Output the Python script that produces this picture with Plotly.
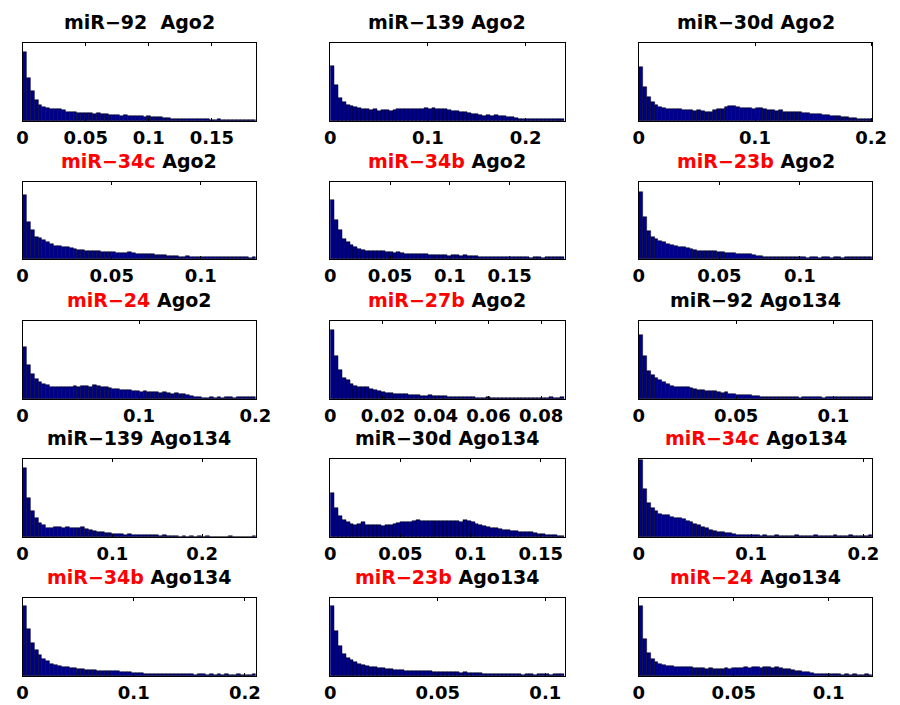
import plotly.graph_objects as go

# ---------------- data ----------------
mirnas = ["miR−92 ", "miR−139", "miR−30d", "miR−34c", "miR−34b", "miR−23b", "miR−24", "miR−27b",
          "miR−92", "miR−139", "miR−30d", "miR−34c", "miR−34b", "miR−23b", "miR−24"]
agos = ["Ago2"] * 8 + ["Ago134"] * 7
highlighted = [False, False, False, True, True, True, True, True,
               False, False, False, True, True, True, True]
x_max = [0.185, 0.24, 0.201, 0.131, 0.196, 0.145, 0.2005, 0.0889,
         0.12, 0.26, 0.167, 0.208, 0.21, 0.109, 0.123]
tick_vals = [[0, 0.05, 0.1, 0.15], [0, 0.1, 0.2], [0, 0.1, 0.2], [0, 0.05, 0.1],
             [0, 0.05, 0.1, 0.15], [0, 0.05, 0.1], [0, 0.1, 0.2], [0, 0.02, 0.04, 0.06, 0.08],
             [0, 0.05, 0.1], [0, 0.1, 0.2], [0, 0.05, 0.1, 0.15], [0, 0.1, 0.2],
             [0, 0.1, 0.2], [0, 0.05, 0.1], [0, 0.05, 0.1]]
tick_text = [["0", "0.05", "0.1", "0.15"], ["0", "0.1", "0.2"], ["0", "0.1", "0.2"], ["0", "0.05", "0.1"],
             ["0", "0.05", "0.1", "0.15"], ["0", "0.05", "0.1"], ["0", "0.1", "0.2"], ["0", "0.02", "0.04", "0.06", "0.08"],
             ["0", "0.05", "0.1"], ["0", "0.1", "0.2"], ["0", "0.05", "0.1", "0.15"], ["0", "0.1", "0.2"],
             ["0", "0.1", "0.2"], ["0", "0.05", "0.1"], ["0", "0.05", "0.1"]]

# histogram bar heights (percent of panel height), 60 equal bins from 0 to x_max
h_mir92_ago2 = [88,55,38,27,21,18,17,16,16,15, 14,12,11,11,10,10,10,10,9,10, 9,9,8,8,8,7,8,7,6,7,
                6,5,6,5,5,5,4,4,3,3, 3,2,3,2,3,2,3,2,1,1, 2,1,1,1,1,1,1,1,1,1]
h_mir139_ago2 = [70,46,30,24,21,19,18,17,16,15, 14,15,13,14,14,13,14,15,15,16, 16,15,16,16,17,16,17,16,15,16,
                 14,13,13,12,11,10,9,9,8,7, 8,7,8,6,6,5,5,4,3,3, 3,3,3,3,3,3,2,2,2,2]
h_mir30d_ago2 = [69,43,31,24,20,18,17,16,16,15, 15,14,14,14,13,14,13,12,12,14, 15,16,18,19,19,18,17,17,17,16,
                 17,17,15,14,14,13,14,12,12,12, 11,11,10,10,9,9,9,8,8,7, 7,6,5,5,4,4,3,3,2,2]
h_mir34c_ago2 = [83,48,38,29,27,25,22,19,17,17, 16,15,14,13,12,12,11,11,10,10, 9,9,9,9,8,8,8,9,8,7,
                 7,7,6,6,5,5,5,4,4,4, 3,3,4,3,3,3,3,2,2,2, 2,2,2,2,3,2,2,2,1,3]
h_mir34b_ago2 = [76,51,38,26,22,18,16,13,12,11, 10,10,10,10,9,9,8,9,8,7, 7,7,6,6,6,5,5,5,5,5,
                 4,5,5,4,5,4,4,4,3,3, 3,2,3,2,2,3,2,2,2,2, 2,1,2,2,1,2,2,2,2,2]
h_mir23b_ago2 = [87,55,36,28,26,24,22,20,18,17, 16,15,14,13,12,11,11,10,10,10, 9,9,8,8,8,7,7,6,6,5,
                 4,4,3,3,3,3,3,2,3,3, 2,3,2,1,2,2,1,2,2,1, 2,2,1,2,2,3,2,2,2,2]
h_mir24_ago2 = [67,43,32,26,22,19,18,16,15,15, 15,16,16,17,16,17,17,16,18,17, 16,15,14,13,13,12,11,11,10,10,
                9,10,9,9,9,8,9,8,7,8, 6,6,5,4,3,2,1,1,2,1, 2,1,2,2,1,2,2,2,3,2]
h_mir27b_ago2 = [88,55,37,27,24,19,17,16,16,15, 13,11,10,9,8,8,7,7,6,6, 5,5,5,4,4,5,4,4,4,4,
                 3,3,3,3,3,2,2,1,1,1, 2,1,1,1,1,1,1,1,1,1, 1,1,1,1,1,1,2,1,1,2]
h_mir92_ago134 = [82,55,36,31,27,24,22,19,17,16, 15,15,15,14,13,12,11,10,10,10, 9,8,9,7,6,5,5,5,5,4,
                  4,3,2,2,2,2,2,2,2,2, 2,1,2,2,2,2,2,1,2,2, 2,2,2,2,2,2,2,2,2,3]
h_mir139_ago134 = [89,50,33,24,18,15,12,12,13,13, 12,13,12,12,11,13,10,9,8,7, 6,5,5,4,4,4,3,4,3,2,
                   3,2,2,2,2,1,2,1,1,1, 0,1,0,1,0,1,0,1,0,0, 0,0,0,1,0,0,0,0,0,1]
h_mir30d_ago134 = [57,37,27,22,19,17,16,17,19,16, 16,15,15,14,15,16,17,18,19,19, 19,20,22,20,21,21,20,21,21,21,
                   20,21,20,19,22,20,19,17,15,14, 13,12,11,10,9,9,8,8,7,7, 6,6,5,4,4,3,3,2,1,1]
h_mir34c_ago134 = [99,62,44,37,33,29,28,28,26,25, 24,23,21,19,17,15,13,11,9,8, 7,6,5,5,4,3,3,2,2,2,
                   2,1,2,1,1,2,1,1,1,1, 2,1,1,1,1,2,1,1,1,1, 2,1,1,1,2,1,1,1,1,2]
h_mir34b_ago134 = [90,60,42,33,27,22,19,16,14,13, 12,11,10,10,9,9,8,8,8,7, 7,7,6,6,6,5,5,5,4,4,
                   4,3,3,3,3,3,2,2,3,2, 2,2,2,2,1,2,2,1,2,1, 2,1,2,1,1,2,1,1,1,2]
h_mir23b_ago134 = [90,58,38,28,23,20,18,16,14,13, 12,11,10,10,9,9,8,8,8,7, 7,7,6,6,6,6,5,5,5,5,
                   5,5,5,4,5,4,4,4,4,3, 3,2,2,2,2,2,2,2,2,1, 2,2,1,2,2,2,1,2,2,2]
h_mir24_ago134 = [90,48,30,22,18,15,14,13,13,12, 12,12,11,11,10,10,10,9,10,9, 9,9,10,9,10,10,10,11,10,11,
                  11,10,11,11,10,11,10,9,9,8, 7,6,5,5,4,3,3,2,2,2, 2,2,1,2,1,2,1,1,2,1]

heights = [h_mir92_ago2, h_mir139_ago2, h_mir30d_ago2, h_mir34c_ago2, h_mir34b_ago2,
           h_mir23b_ago2, h_mir24_ago2, h_mir27b_ago2, h_mir92_ago134, h_mir139_ago134,
           h_mir30d_ago134, h_mir34c_ago134, h_mir34b_ago134, h_mir23b_ago134, h_mir24_ago134]

# ---------------- layout geometry (pixels) ----------------
W, H = 900, 705
col_px = [(17, 256), (332, 572), (648, 887)]
row_px = [(43, 121), (182, 259), (321, 399), (459, 537), (598, 676)]

BAR_COLOR = "rgb(0,0,143)"
FONT = "DejaVu Sans"

fig = go.Figure()
annotations = []
layout_axes = {}

for i in range(15):
    r, c = divmod(i, 3)
    x0, x1 = col_px[c]
    y0, y1 = row_px[r]
    xd = [x0 / W, x1 / W]
    yd = [1 - y1 / H, 1 - y0 / H]
    n = len(heights[i])
    bw = x_max[i] / n
    centers = [(k + 0.5) * bw for k in range(n)]
    ax = "" if i == 0 else str(i + 1)
    fig.add_trace(go.Bar(
        x=centers, y=heights[i], width=bw,
        marker=dict(color=BAR_COLOR, line=dict(color="black", width=0.5)),
        xaxis="x" + ax, yaxis="y" + ax, showlegend=False, hoverinfo="skip"))
    layout_axes["xaxis" + ax] = dict(
        domain=xd, anchor="y" + ax, range=[0, x_max[i]],
        tickmode="array", tickvals=tick_vals[i], ticktext=tick_text[i],
        ticks="inside", ticklen=3, tickcolor="black",
        showline=True, linecolor="black", linewidth=1, mirror="ticks",
        showgrid=False, zeroline=False,
        tickfont=dict(family=FONT, size=18, color="black", weight="bold"))
    layout_axes["yaxis" + ax] = dict(
        domain=yd, anchor="x" + ax, range=[0, 100],
        showticklabels=False, ticks="",
        showline=True, linecolor="black", linewidth=1, mirror=True,
        showgrid=False, zeroline=False)
    name = mirnas[i].replace(" ", "\u00a0")
    label = f"{name} {agos[i]}"
    if highlighted[i]:
        label = f"<span style='color:#FF0000'>{name}</span> {agos[i]}"
    annotations.append(dict(
        text=label, xref="paper", yref="paper",
        x=(xd[0] + xd[1]) / 2, y=yd[1] + 21 / H,
        xanchor="center", yanchor="middle", showarrow=False,
        font=dict(family=FONT, size=19, color="black", weight="bold")))

fig.update_layout(
    width=W, height=H, margin=dict(l=0, r=0, t=0, b=0),
    paper_bgcolor="white", plot_bgcolor="white",
    bargap=0, annotations=annotations, **layout_axes)

fig.write_html("out.html")
